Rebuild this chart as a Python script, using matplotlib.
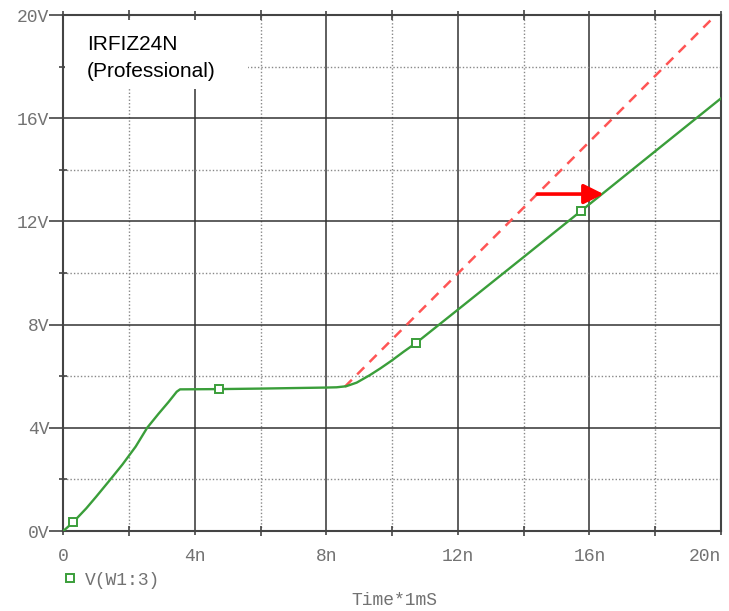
import matplotlib
matplotlib.use("Agg")
import matplotlib.pyplot as plt
from matplotlib.patches import Rectangle
from matplotlib.ticker import MultipleLocator

# Gate voltage V(W1:3) versus time (ns)
t_ns = [0, 0.30, 0.7, 1.0, 1.42, 1.8, 2.2, 2.55, 2.9, 3.2, 3.45, 3.55, 4.73, 6.0, 7.0,
        8.0, 8.31, 8.6, 8.92, 9.32, 9.65, 9.98, 10.35, 10.74, 12.0, 14.0, 15.74, 18.0, 20.0]
v_gate = [0, 0.34, 0.88, 1.33, 1.98, 2.58, 3.27, 4.0, 4.55, 5.0, 5.40, 5.49, 5.50, 5.52, 5.54,
          5.56, 5.57, 5.61, 5.75, 6.04, 6.31, 6.60, 6.95, 7.30, 8.58, 10.62, 12.40, 14.72, 16.77]
marker_idx = [1, 12, 23, 26]

# Extrapolated rise without Miller slowdown (dashed reference)
ref_t = [8.56, 19.72]
ref_v = [5.59, 19.84]

# Delay arrow
arrow_start = (14.41, 13.06)
arrow_end = (16.43, 13.06)

x_ticks = [0, 4, 8, 12, 16, 20]
x_labels = ["0", "4n", "8n", "12n", "16n", "20n"]
y_ticks = [0, 4, 8, 12, 16, 20]
y_labels = ["0V", "4V", "8V", "12V", "16V", "20V"]

mono = "Liberation Mono"
label_col = "#727272"
green = "#3a9e3a"

fig = plt.figure(figsize=(7.29, 6.11), dpi=100)
ax = fig.add_axes([63.3 / 729, 1 - 531 / 611, (721 - 63.3) / 729, (531 - 15) / 611])
ax.set_xlim(0, 20)
ax.set_ylim(0, 20)
ax.set_axisbelow(True)

ax.xaxis.set_minor_locator(MultipleLocator(2))
ax.yaxis.set_minor_locator(MultipleLocator(2))
ax.set_xticks(x_ticks)
ax.set_xticklabels(x_labels)
ax.set_yticks(y_ticks)
ax.set_yticklabels(y_labels)

ax.grid(which="major", color="#333333", linewidth=1.1, linestyle="-")
ax.grid(which="minor", color="#888888", linewidth=1.0, linestyle=(0, (1, 1.5)))

for s in ax.spines.values():
    s.set_color("#444444")
    s.set_linewidth(1.5)

ax.tick_params(axis="x", which="major", direction="out", length=3, width=1.2,
               color="#444444", pad=9, labelsize=13, labelcolor=label_col,
               top=True)
ax.tick_params(axis="x", which="minor", direction="inout", length=7, width=1.2,
               color="#444444", top=True)
ax.tick_params(axis="y", which="major", direction="out", length=10, width=1.2,
               color="#444444", pad=0, labelsize=13, labelcolor=label_col)
ax.tick_params(axis="y", which="minor", direction="inout", length=6, width=1.2,
               color="#444444")
for lab in ax.get_xticklabels() + ax.get_yticklabels():
    lab.set_fontfamily(mono)
# keep the last time label inside the figure
last = ax.get_xticklabels()[-1]
last.set_horizontalalignment("right")

# White label box in the top-left corner
ax.add_patch(Rectangle((0.002, 0.857), 0.279, 0.133, transform=ax.transAxes,
                       facecolor="white", edgecolor="none", zorder=1))
ax.text(0.036, 0.932, "IRFIZ24N", transform=ax.transAxes, fontsize=15,
        family="Liberation Sans", va="baseline", ha="left", zorder=3)
ax.text(0.036, (531 - 77) / 516, "(Professional)", transform=ax.transAxes, fontsize=15,
        family="Liberation Sans", va="baseline", ha="left", zorder=3)

ax.plot(ref_t, ref_v, color="#ff5555", linewidth=1.8, linestyle=(0, (4, 3)), zorder=4)
ax.plot(t_ns, v_gate, color=green, linewidth=1.7, zorder=5,
        marker="s", markevery=marker_idx, markersize=6, markerfacecolor="white",
        markeredgecolor=green, markeredgewidth=1.4)

ax.annotate("", xy=arrow_end, xytext=arrow_start,
            arrowprops=dict(arrowstyle="-|>,head_length=1.2,head_width=0.6",
                            color="#ff0000", linewidth=2.6, shrinkA=0, shrinkB=0),
            zorder=6)

# Legend entry and axis title
fig.lines.append(plt.Line2D([70 / 729], [1 - 578 / 611], transform=fig.transFigure,
                            marker="s", markersize=6, markerfacecolor="white",
                            markeredgecolor=green, markeredgewidth=1.4, linestyle="none"))
fig.text(85 / 729, 1 - 585 / 611, "V(W1:3)", fontsize=13, family=mono, color=label_col,
         va="baseline", ha="left")
fig.text(394 / 729, 1 - 605 / 611, "Time*1mS", fontsize=13, family=mono, color=label_col,
         va="baseline", ha="center")

fig.savefig("out.png", dpi=100)
